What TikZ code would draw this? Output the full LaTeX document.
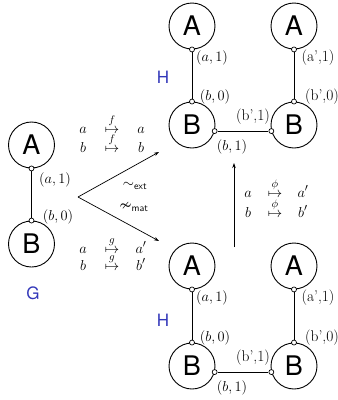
\documentclass[tikz,border=0pt]{standalone}
\usepackage{fontspec}
\usepackage{amsmath,amssymb}
\newfontfamily\hv{TeX Gyre Heros}
\usetikzlibrary{arrows.meta}
\definecolor{lblue}{RGB}{50,55,185}
\tikzset{
  vert/.style={circle, draw, line width=0.9pt, minimum size=46pt, inner sep=0pt, font=\hv\fontsize{27}{27}\selectfont},
  port/.style={circle, draw, fill=white, minimum size=5pt, inner sep=0pt, line width=0.7pt},
  lbl/.style={font=\fontsize{15.5}{15.5}\selectfont, inner sep=0pt},
  mrow/.style={font=\fontsize{15}{15}\selectfont, inner sep=0pt, anchor=base},
  glabel/.style={font=\hv\fontsize{17}{17}\selectfont, text=lblue, inner sep=0pt},
  edge/.style={line width=0.8pt},
  arr/.style={line width=0.7pt, -{Stealth[length=5pt,width=3.5pt]}}
}
\begin{document}
\begin{tikzpicture}[x=1pt,y=-1pt]
\useasboundingbox (0,0) rectangle (338,400);
% ---- G ----
\node[vert] (GA) at (31.5,145) {A};
\node[vert] (GB) at (31.5,244) {B};
\node[port] (gpa) at (GA.south) {};
\node[port] (gpb) at (GB.north) {};
\draw[edge] (gpa) -- (gpb);
\node[lbl] (gla) at (55,180) {$(a,1)$};
\node[lbl] (glb) at (58,217) {$(b,0)$};
\node[glabel] (G) at (33,293) {G};
% ---- upper H ----
\node[vert] (HA1) at (192,26) {A};
\node[vert] (HB1) at (192,125) {B};
\node[vert] (HA2) at (294,26) {A};
\node[vert] (HB2) at (294,125) {B};
\node[port] (hpa1) at (HA1.south) {};
\node[port] (hpb1) at (HB1.north) {};
\node[port] (hpa2) at (HA2.south) {};
\node[port] (hpb2) at (HB2.north) {};
\node[port] (hpc1) at (HB1.-15) {};
\node[port] (hpc2) at (HB2.195) {};
\draw[edge] (hpa1) -- (hpb1);
\draw[edge] (hpa2) -- (hpb2);
\draw[edge] (hpc1) -- (hpc2);
\node[lbl] (hl1) at (212,58) {$(a,1)$};
\node[lbl] (hl2) at (215,97) {$(b,0)$};
\node[lbl] (hl3) at (253,117) {(b',1)};
\node[lbl] (hl4) at (232,147) {$(b,1)$};
\node[lbl] (hl5) at (318,58) {(a',1)};
\node[lbl] (hl6) at (322,97) {(b',0)};
\node[glabel] (H1) at (163,77) {H};
% ---- lower H ----
\node[vert] (LA1) at (192,266) {A};
\node[vert] (LB1) at (192,366) {B};
\node[vert] (LA2) at (294,266) {A};
\node[vert] (LB2) at (294,366) {B};
\node[port] (lpa1) at (LA1.south) {};
\node[port] (lpb1) at (LB1.north) {};
\node[port] (lpa2) at (LA2.south) {};
\node[port] (lpb2) at (LB2.north) {};
\node[port] (lpc1) at (LB1.-15) {};
\node[port] (lpc2) at (LB2.195) {};
\draw[edge] (lpa1) -- (lpb1);
\draw[edge] (lpa2) -- (lpb2);
\draw[edge] (lpc1) -- (lpc2);
\node[lbl] (ll1) at (212,298) {$(a,1)$};
\node[lbl] (ll2) at (215,338) {$(b,0)$};
\node[lbl] (ll3) at (253,358) {(b',1)};
\node[lbl] (ll4) at (232,388) {$(b,1)$};
\node[lbl] (ll5) at (318,298) {(a',1)};
\node[lbl] (ll6) at (322,338) {(b',0)};
\node[glabel] (H2) at (163,320) {H};
% ---- arrows ----
\coordinate (v) at (78,197);
\coordinate (tu) at (159,152);
\coordinate (td) at (159,241);
\draw[arr] (v) -- (tu);
\draw[arr] (v) -- (td);
\coordinate (pb) at (234,247);
\coordinate (pt) at (234,163);
\draw[arr] (pb) -- (pt);
\node[lbl] (ext) at (135,186) {$\sim_{\text{\sffamily\fontsize{10}{10}\selectfont ext}}$};
\node[lbl] (mat) at (134,208) {$\nsim_{\text{\sffamily\fontsize{10}{10}\selectfont mat}}$};
% ---- mappings ----
\node[mrow] (f1a) at (83,133) {$a$};
\node[mrow] (f1m) at (112,133) {$\stackrel{f}{\mapsto}$};
\node[mrow] (f1b) at (141,133) {$a$};
\node[mrow] (f2a) at (83,152) {$b$};
\node[mrow] (f2m) at (112,152) {$\stackrel{f}{\mapsto}$};
\node[mrow] (f2b) at (141,152) {$b$};
\node[mrow] (g1a) at (83,253) {$a$};
\node[mrow] (g1m) at (112,253) {$\stackrel{g}{\mapsto}$};
\node[mrow] (g1b) at (141,253) {$a'$};
\node[mrow] (g2a) at (83,270) {$b$};
\node[mrow] (g2m) at (112,270) {$\stackrel{g}{\mapsto}$};
\node[mrow] (g2b) at (141,270) {$b'$};
\node[mrow] (p1a) at (248,197) {$a$};
\node[mrow] (p1m) at (275,197) {$\stackrel{\phi}{\mapsto}$};
\node[mrow] (p1b) at (303,197) {$a'$};
\node[mrow] (p2a) at (248,217) {$b$};
\node[mrow] (p2m) at (275,217) {$\stackrel{\phi}{\mapsto}$};
\node[mrow] (p2b) at (303,217) {$b'$};
\end{tikzpicture}
\end{document}
